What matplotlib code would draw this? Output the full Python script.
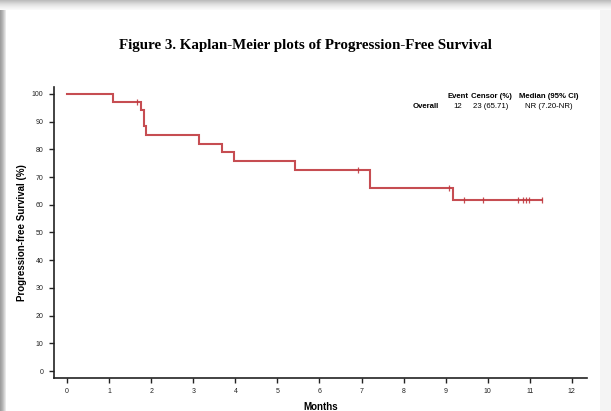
import matplotlib
matplotlib.use("Agg")
import matplotlib.pyplot as plt
from matplotlib.patches import Rectangle
import numpy as np

# ---- data ----
event_times = [0, 1.09, 1.76, 1.82, 1.84, 1.87, 3.14, 3.68, 3.97, 5.43, 7.20, 9.17]
survival = [100, 97.1, 94.2, 91.3, 88.3, 85.3, 82.1, 79.0, 75.9, 72.7, 65.9, 61.9]
end_time = 11.28
censor_times = [1.66, 6.91, 9.08, 9.44, 9.89, 10.73, 10.84, 10.92, 10.98, 11.28]
x_ticks = list(range(0, 13))
y_ticks = list(range(0, 101, 10))
table_header = ["Event", "Censor (%)", "Median (95% CI)"]
table_row_label = "Overall"
table_row = ["12", "23 (65.71)", "NR (7.20-NR)"]

W, H = 611, 411
fig = plt.figure(figsize=(W / 100, H / 100), dpi=100)
fig.patch.set_facecolor("white")

# frame / shadow strips
def px_rect(x0, y0, w, h, color, alpha=1.0):
    fig.patches.append(Rectangle((x0 / W, 1 - (y0 + h) / H), w / W, h / H,
                                 transform=fig.transFigure, facecolor=color,
                                 edgecolor="none", alpha=alpha, zorder=0))

for i, c in enumerate(["#bdbdbd", "#c6c6c6", "#cfcfcf", "#d8d8d8", "#e0e0e0",
                       "#e6e6e6", "#ececec", "#f1f1f1", "#f5f5f5", "#f9f9f9"]):
    px_rect(0, i, W, 1, c)
for i, c in enumerate(["#9e9e9e", "#a8a8a8", "#b4b4b4", "#c4c4c4", "#d6d6d6", "#e8e8e8"]):
    px_rect(i, 10, 1, H - 10, c)
px_rect(600, 10, 11, H - 10, "#f4f4f4")

ax = fig.add_axes([54 / W, 1 - 378 / H, (587 - 54) / W, (378 - 87) / H])
ax.set_facecolor("none")

red = "#c0393f"
xs = list(event_times) + [end_time]
ys = list(survival) + [survival[-1]]
ax.step(xs, ys, where="post", color=red, lw=1.5, alpha=0.9, solid_joinstyle="miter")

cens_y = [survival[np.searchsorted(event_times, t, side="right") - 1] for t in censor_times]
ax.plot(censor_times, cens_y, linestyle="none", marker="|", markersize=4.5,
        markeredgewidth=0.9, color=red, alpha=0.9)

ax.set_xlim(-0.31, 12.36)
ax.set_ylim(-2.5, 102.5)
ax.set_xticks(x_ticks)
ax.set_yticks(y_ticks)
ax.tick_params(direction="out", length=3.5, width=1.0, labelsize=5, pad=4,
               colors="#222222")
for s in ["top", "right"]:
    ax.spines[s].set_visible(False)
for s in ["left", "bottom"]:
    ax.spines[s].set_linewidth(1.2)
    ax.spines[s].set_color("#222222")

for lab in ax.get_xticklabels() + ax.get_yticklabels():
    lab.set_family("Liberation Sans")

ax.set_xlabel("Months", fontsize=7, fontweight="bold", family="Liberation Sans",
              labelpad=5)
ax.set_ylabel("Progression-free Survival (%)", fontsize=7, fontweight="bold",
              family="Liberation Sans", labelpad=3.5)

fig.text(305 / W, 1 - 45 / H, "Figure 3. Kaplan-Meier plots of Progression-Free Survival",
         ha="center", va="center", fontsize=10.8, fontweight="bold",
         family="Liberation Serif")

# summary table
hx = [458, 491, 549]
for x, t in zip(hx, table_header):
    fig.text(x / W, 1 - 96 / H, t, ha="center", va="center", fontsize=5.6,
             fontweight="bold", family="Liberation Sans")
fig.text(439 / W, 1 - 106 / H, table_row_label, ha="right", va="center",
         fontsize=5.6, fontweight="bold", family="Liberation Sans")
for x, t in zip(hx, table_row):
    fig.text(x / W, 1 - 106 / H, t, ha="center", va="center", fontsize=5.6,
             family="Liberation Sans")

fig.savefig("out.png", dpi=100)
